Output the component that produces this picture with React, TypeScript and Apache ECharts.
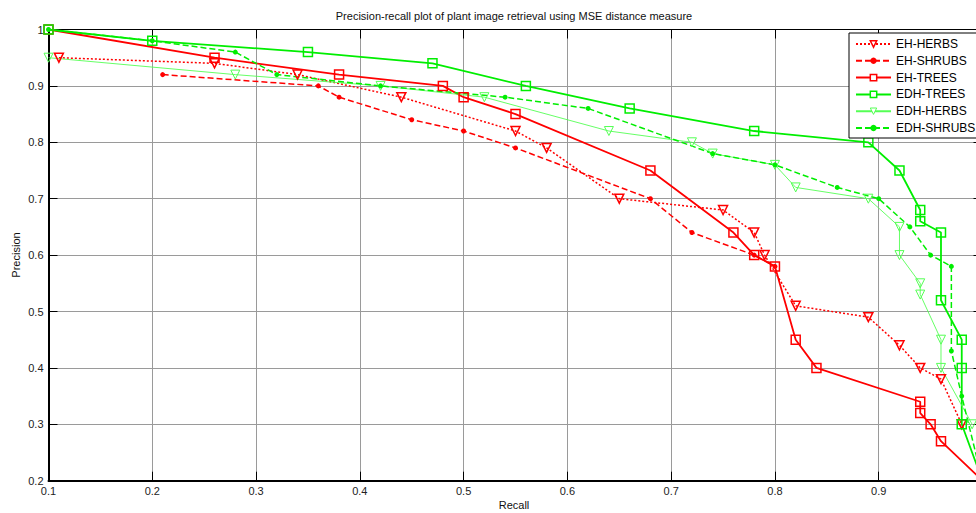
import React, { useEffect, useRef } from "react";
import * as echarts from "echarts";

const TITLE = "Precision-recall plot of plant image retrieval using MSE distance measure";
const X_NAME = "Recall";
const Y_NAME = "Precision";

const EH_HERBS = [
  [0.11, 0.95], [0.26, 0.94], [0.34, 0.92], [0.44, 0.88], [0.55, 0.82], [0.58, 0.79],
  [0.65, 0.70], [0.75, 0.68], [0.78, 0.64], [0.79, 0.60], [0.82, 0.51], [0.89, 0.49],
  [0.92, 0.44], [0.94, 0.40], [0.96, 0.38], [0.98, 0.30],
];
const EH_SHRUBS = [
  [0.21, 0.92], [0.36, 0.90], [0.38, 0.88], [0.45, 0.84], [0.50, 0.82], [0.55, 0.79],
  [0.68, 0.70], [0.72, 0.64], [0.78, 0.60], [0.80, 0.58],
];
const EH_TREES = [
  [0.10, 1.0], [0.26, 0.95], [0.38, 0.92], [0.48, 0.90], [0.50, 0.88], [0.55, 0.85],
  [0.68, 0.75], [0.76, 0.64], [0.78, 0.60], [0.80, 0.58], [0.82, 0.45], [0.84, 0.40],
  [0.94, 0.34], [0.94, 0.32], [0.95, 0.30], [0.96, 0.27], [1.0, 0.20],
];
const EDH_TREES = [
  [0.10, 1.0], [0.20, 0.98], [0.35, 0.96], [0.47, 0.94], [0.56, 0.90], [0.66, 0.86],
  [0.78, 0.82], [0.89, 0.80], [0.92, 0.75], [0.94, 0.68], [0.94, 0.66], [0.96, 0.64],
  [0.96, 0.52], [0.98, 0.45], [0.98, 0.40], [0.98, 0.30], [1.0, 0.20],
];
const EDH_HERBS = [
  [0.10, 0.95], [0.28, 0.92], [0.42, 0.90], [0.52, 0.88], [0.64, 0.82], [0.72, 0.80],
  [0.74, 0.78], [0.80, 0.76], [0.82, 0.72], [0.89, 0.70], [0.92, 0.65], [0.92, 0.60],
  [0.94, 0.55], [0.94, 0.53], [0.96, 0.45], [0.96, 0.40], [0.99, 0.30],
];
const EDH_SHRUBS = [
  [0.10, 1.0], [0.20, 0.98], [0.28, 0.96], [0.32, 0.92], [0.42, 0.90], [0.54, 0.88],
  [0.62, 0.86], [0.74, 0.78], [0.80, 0.76], [0.86, 0.72], [0.90, 0.70], [0.93, 0.65],
  [0.95, 0.60], [0.97, 0.58], [0.97, 0.43], [0.98, 0.35], [1.0, 0.20],
];

const RED = "#ff0000";
const GREEN = "#00ee00";
const LIGHT_GREEN = "#55ff55";
const FONT = "'Liberation Sans', Arial, sans-serif";

const fmt = (v: number) => String(Math.round(v * 10) / 10);
const fmtX = (v: number) => (v >= 0.999 ? "" : fmt(v));

export default function App() {
  const ref = useRef<HTMLDivElement>(null);
  useEffect(() => {
    if (!ref.current) return;
    const chart = echarts.init(ref.current, undefined, { renderer: "svg" });
    const hollow = "rgba(0,0,0,0)";
    const option: any = {
      animation: false,
      backgroundColor: "#fff",
      grid: {
        left: 48.5, right: 7.5, top: 29.5, bottom: 32.3,
        show: true, borderColor: "#000", borderWidth: 1, backgroundColor: "#fff",
      },
      graphic: [
        { type: "text", x: 514, y: 16, style: { text: TITLE, fontSize: 11, fontFamily: FONT, fill: "#111", textAlign: "center", textVerticalAlign: "middle" } },
        { type: "text", x: 514, y: 505, style: { text: X_NAME, fontSize: 11, fontFamily: FONT, fill: "#111", textAlign: "center", textVerticalAlign: "middle" } },
        { type: "text", x: 16, y: 255, rotation: Math.PI / 2, style: { text: Y_NAME, fontSize: 11, fontFamily: FONT, fill: "#111", textAlign: "center", textVerticalAlign: "middle" } },
      ],
      legend: {
        orient: "vertical",
        left: 849,
        top: 33,
        padding: [4, 8, 3, 6],
        itemGap: 2.8,
        itemWidth: 35,
        itemHeight: 8,
        borderColor: "#000",
        borderWidth: 1,
        backgroundColor: "#fff",
        textStyle: { fontSize: 12, fontFamily: FONT, color: "#000", lineHeight: 14, padding: [0, 0, 0, 0] },
        data: [
          { name: "EH-HERBS", itemStyle: { color: "#fff", borderColor: RED, borderWidth: 1.5 } },
          { name: "EH-SHRUBS" },
          { name: "EH-TREES", itemStyle: { color: "#fff", borderColor: RED, borderWidth: 1.5 } },
          { name: "EDH-TREES", itemStyle: { color: "#fff", borderColor: GREEN, borderWidth: 1.5 } },
          { name: "EDH-HERBS", itemStyle: { color: "#fff", borderColor: LIGHT_GREEN, borderWidth: 1 } },
          { name: "EDH-SHRUBS" },
        ],
      },
      xAxis: [
        {
          type: "value", min: 0.1, max: 1.0, interval: 0.1, position: "bottom",
          axisLine: { show: true, lineStyle: { color: "#000", width: 2 } },
          axisTick: { show: true, inside: true, length: 9, lineStyle: { color: "#000" } },
          axisLabel: { formatter: fmtX, fontSize: 11, fontFamily: FONT, color: "#222", margin: 5 },
          splitLine: { show: true, lineStyle: { color: "#9a9a9a", width: 1 } },
        },
        {
          type: "value", min: 0.1, max: 1.0, interval: 0.1, position: "top",
          axisLine: { show: true, lineStyle: { color: "#000", width: 1 } },
          axisTick: { show: true, inside: true, length: 9, lineStyle: { color: "#000" } },
          axisLabel: { show: false },
          splitLine: { show: false },
        },
      ],
      yAxis: [
        {
          type: "value", min: 0.2, max: 1.0, interval: 0.1, position: "left",
          axisLine: { show: true, lineStyle: { color: "#000", width: 2 } },
          axisTick: { show: true, inside: true, length: 9, lineStyle: { color: "#000" } },
          axisLabel: { formatter: fmt, fontSize: 11, fontFamily: FONT, color: "#222", margin: 5 },
          splitLine: { show: true, lineStyle: { color: "#9a9a9a", width: 1 } },
        },
        {
          type: "value", min: 0.2, max: 1.0, interval: 0.1, position: "right",
          axisLine: { show: true, lineStyle: { color: "#000", width: 1 } },
          axisTick: { show: true, inside: true, length: 9, lineStyle: { color: "#000" } },
          axisLabel: { show: false },
          splitLine: { show: false },
        },
      ],
      series: [
        {
          name: "EH-HERBS", type: "line", data: EH_HERBS, symbol: "triangle", symbolRotate: 180, symbolSize: 9,
          lineStyle: { color: RED, width: 1.5, type: [2, 2] },
          itemStyle: { color: hollow, borderColor: RED, borderWidth: 1.5 },
        },
        {
          name: "EH-SHRUBS", type: "line", data: EH_SHRUBS, symbol: "circle", symbolSize: 5,
          lineStyle: { color: RED, width: 1.5, type: [6, 3] },
          itemStyle: { color: RED, borderColor: RED, borderWidth: 0 },
        },
        {
          name: "EH-TREES", type: "line", data: EH_TREES, symbol: "rect", symbolSize: 9,
          lineStyle: { color: RED, width: 1.8 },
          itemStyle: { color: hollow, borderColor: RED, borderWidth: 1.5 },
        },
        {
          name: "EDH-TREES", type: "line", data: EDH_TREES, symbol: "rect", symbolSize: 9,
          lineStyle: { color: GREEN, width: 1.8 },
          itemStyle: { color: hollow, borderColor: GREEN, borderWidth: 1.5 },
        },
        {
          name: "EDH-HERBS", type: "line", data: EDH_HERBS, symbol: "triangle", symbolRotate: 180, symbolSize: 9,
          lineStyle: { color: LIGHT_GREEN, width: 0.9 },
          itemStyle: { color: hollow, borderColor: LIGHT_GREEN, borderWidth: 1 },
        },
        {
          name: "EDH-SHRUBS", type: "line", data: EDH_SHRUBS, symbol: "circle", symbolSize: 5,
          lineStyle: { color: GREEN, width: 1.5, type: [6, 3] },
          itemStyle: { color: GREEN, borderColor: GREEN, borderWidth: 0 },
        },
      ],
    };
    chart.setOption(option);
    return () => chart.dispose();
  }, []);
  return (
    <div
      ref={ref}
      style={{ position: "fixed", left: 0, top: 0, width: 990, height: 513, background: "#fff" }}
    />
  );
}
